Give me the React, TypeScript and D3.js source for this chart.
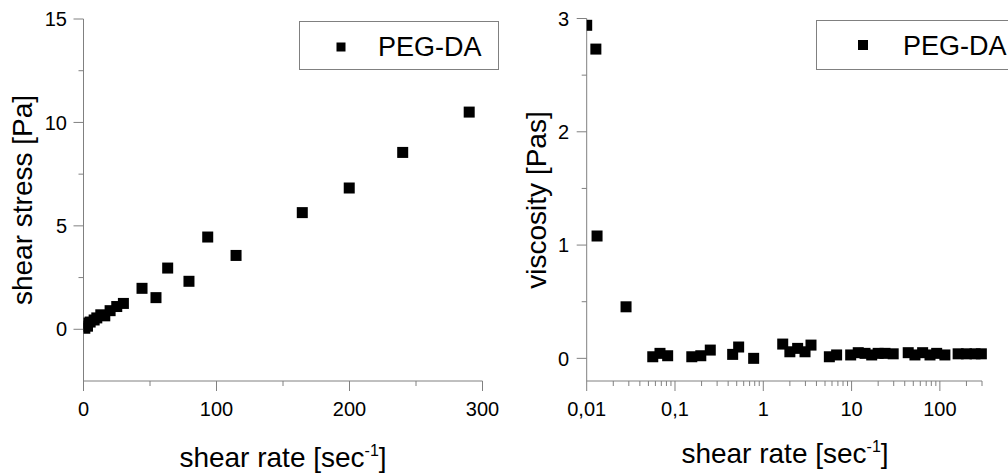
import React from "react";
import * as d3 from "d3";

// Left panel: shear stress vs shear rate
const stressRate = [1, 2, 3, 5, 8, 10, 13, 16, 20, 25, 30, 44, 54.5, 63.3, 79.3, 93.4, 114.7, 164.5, 199.8, 240, 290];
const stressVal = [0.05, 0.3, 0.15, 0.35, 0.45, 0.55, 0.7, 0.65, 0.9, 1.1, 1.25, 1.98, 1.53, 2.96, 2.32, 4.46, 3.57, 5.64, 6.83, 8.55, 10.5];

// Right panel: viscosity vs shear rate (log)
const viscRate = [0.01, 0.0127, 0.0131, 0.0279, 0.056, 0.0676, 0.0826, 0.155, 0.196, 0.251, 0.45, 0.526, 0.778, 1.66, 2.0, 2.45, 2.97, 3.47, 5.6, 6.77, 9.77, 11.9, 14.2, 16.9, 20, 23.9, 29.6, 43.8, 52.2, 63.8, 77.3, 92, 114, 161, 200, 250, 295];
const viscVal = [2.94, 2.73, 1.08, 0.455, 0.014, 0.044, 0.023, 0.014, 0.023, 0.073, 0.035, 0.1, 0.0, 0.126, 0.058, 0.088, 0.058, 0.117, 0.014, 0.03, 0.03, 0.05, 0.044, 0.03, 0.044, 0.044, 0.04, 0.05, 0.03, 0.05, 0.03, 0.044, 0.03, 0.04, 0.04, 0.04, 0.04];

const leftXTicks = [0, 100, 200, 300];
const leftXMinor = [50, 150, 250];
const leftYTicks = [0, 5, 10, 15];
const leftYMinor = [2.5, 7.5, 12.5];
const rightXTicks = [0.01, 0.1, 1, 10, 100];
const rightXLabels = ["0,01", "0,1", "1", "10", "100"];
const rightYTicks = [0, 1, 2, 3];
const rightYMinor = [0.5, 1.5, 2.5];
const seriesName = "PEG-DA";

const FONT = "'Liberation Sans', Arial, sans-serif";
const AX = "#808080";

export default function App() {
  // left scales
  const lx = d3.scaleLinear().domain([0, 300]).range([83.5, 482.5]);
  const ly = d3.scaleLinear().domain([-2.5, 15]).range([381, 19]);
  // right scales
  const rx = d3.scaleLog().domain([0.01, 300]).range([586.7, 982]);
  const ry = d3.scaleLinear().domain([-0.2, 3]).range([381, 18.5]);

  const rMinor: number[] = [];
  for (let e = -2; e <= 2; e++) {
    for (let m = 2; m <= 9; m++) {
      const v = m * Math.pow(10, e);
      if (v <= 300) rMinor.push(v);
    }
  }
  const ms = 11;

  return (
    <svg width={1008} height={476} style={{ position: "absolute", left: 0, top: 0, background: "#fff" }} fontFamily={FONT}>
      <defs>
        <clipPath id="clipL"><rect x={83.5} y={0} width={420} height={381} /></clipPath>
        <clipPath id="clipR"><rect x={586.7} y={0} width={421} height={381} /></clipPath>
      </defs>
      {/* LEFT PANEL */}
      <g>
        <line x1={lx(0)} x2={lx(300)} y1={381} y2={381} stroke={AX} />
        <line x1={83.5} x2={83.5} y1={ly(15)} y2={381} stroke={AX} />
        {leftXTicks.map((t) => (
          <g key={"lxt" + t}>
            <line x1={lx(t)} x2={lx(t)} y1={381} y2={391} stroke={AX} />
            <text x={lx(t)} y={416} fontSize={20} textAnchor="middle" fill="#000">{t}</text>
          </g>
        ))}
        {leftXMinor.map((t) => (
          <line key={"lxm" + t} x1={lx(t)} x2={lx(t)} y1={381} y2={386} stroke={AX} />
        ))}
        {leftYTicks.map((t) => (
          <g key={"lyt" + t}>
            <line x1={73.5} x2={83.5} y1={ly(t)} y2={ly(t)} stroke={AX} />
            <text x={67} y={ly(t)} dy="0.36em" fontSize={20} textAnchor="end" fill="#000">{t}</text>
          </g>
        ))}
        {leftYMinor.map((t) => (
          <line key={"lym" + t} x1={78.5} x2={83.5} y1={ly(t)} y2={ly(t)} stroke={AX} />
        ))}
        <g clipPath="url(#clipL)">
          {stressRate.map((x, i) => (
            <rect key={"lp" + i} x={lx(x) - ms / 2} y={ly(stressVal[i]) - ms / 2} width={ms} height={ms} fill="#000" />
          ))}
        </g>
        <text x={283} y={467} fontSize={28} textAnchor="middle" fill="#000">
          <tspan>shear rate [sec</tspan>
          <tspan dy={-11} fontSize={16}>-1</tspan>
          <tspan dy={11}>]</tspan>
        </text>
        <text transform="translate(32,200) rotate(-90)" fontSize={28} textAnchor="middle" fill="#000">shear stress [Pa]</text>
        {/* legend */}
        <rect x={299.5} y={21.5} width={199} height={48} fill="#fff" stroke={AX} />
        <rect x={341 - 4.5} y={47 - 4.5} width={9} height={9} fill="#000" />
        <text x={378} y={56} fontSize={27} fill="#000">{seriesName}</text>
      </g>

      {/* RIGHT PANEL */}
      <g>
        <line x1={rx(0.01)} x2={rx(300)} y1={381} y2={381} stroke={AX} />
        <line x1={586.7} x2={586.7} y1={ry(3)} y2={381} stroke={AX} />
        {rightXTicks.map((t, i) => (
          <g key={"rxt" + t}>
            <line x1={rx(t)} x2={rx(t)} y1={381} y2={391} stroke={AX} />
            <text x={rx(t)} y={416} fontSize={20} textAnchor="middle" fill="#000">{rightXLabels[i]}</text>
          </g>
        ))}
        {rMinor.map((t, i) => (
          <line key={"rxm" + i} x1={rx(t)} x2={rx(t)} y1={381} y2={386} stroke={AX} />
        ))}
        {rightYTicks.map((t) => (
          <g key={"ryt" + t}>
            <line x1={576.7} x2={586.7} y1={ry(t)} y2={ry(t)} stroke={AX} />
            <text x={569} y={ry(t)} dy="0.36em" fontSize={20} textAnchor="end" fill="#000">{t}</text>
          </g>
        ))}
        {rightYMinor.map((t) => (
          <line key={"rym" + t} x1={581.7} x2={586.7} y1={ry(t)} y2={ry(t)} stroke={AX} />
        ))}
        <g clipPath="url(#clipR)">
          {viscRate.map((x, i) => (
            <rect key={"rp" + i} x={rx(x) - ms / 2} y={ry(viscVal[i]) - ms / 2} width={ms} height={ms} fill="#000" />
          ))}
        </g>
        <text x={785} y={463} fontSize={28} textAnchor="middle" fill="#000">
          <tspan>shear rate [sec</tspan>
          <tspan dy={-11} fontSize={16}>-1</tspan>
          <tspan dy={11}>]</tspan>
        </text>
        <text transform="translate(546,200) rotate(-90)" fontSize={28} textAnchor="middle" fill="#000">viscosity [Pas]</text>
        {/* legend */}
        <rect x={816.5} y={20.5} width={210} height={49} fill="#fff" stroke={AX} />
        <rect x={863 - 5} y={45 - 5} width={10} height={10} fill="#000" />
        <text x={903} y={55} fontSize={27} fill="#000">{seriesName}</text>
      </g>
    </svg>
  );
}
